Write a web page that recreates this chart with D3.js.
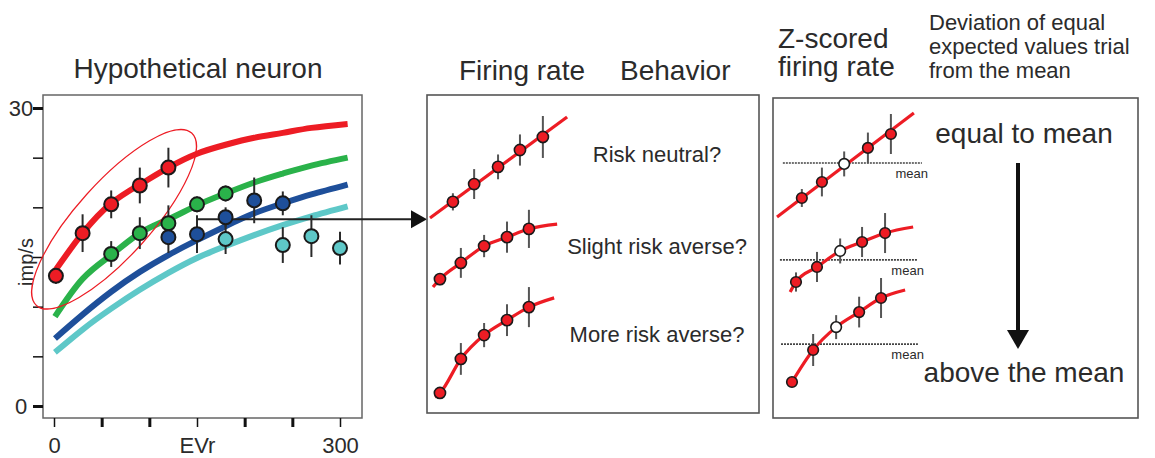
<!DOCTYPE html>
<html>
<head>
<meta charset="utf-8">
<script src="https://cdn.jsdelivr.net/npm/d3@7"></script>
<style>
	body { margin: 0; background: #fff; }
	svg { display: block; font-family: "Liberation Sans", Arial, Helvetica, sans-serif; }
</style>
</head>
<body>
<div id="chart"></div>
<script>
// ---------------- Left panel: hypothetical neuron ----------------
// fitted curves, sampled along EVr
const curveEvr = [1, 30, 60, 90, 120, 150, 180, 210, 240, 270, 308];
const redCurve = [13.6, 17.4, 20.4, 22.3, 24.0, 25.4, 26.3, 27.0, 27.5, 28.0, 28.4];
const greenCurve = [9.0, 12.8, 15.2, 17.4, 18.8, 20.2, 21.4, 22.5, 23.4, 24.2, 25.0];
const blueCurve = [6.8, 9.2, 11.5, 13.5, 15.2, 16.7, 18.1, 19.4, 20.4, 21.3, 22.3];
const cyanCurve = [5.4, 7.7, 9.8, 11.7, 13.4, 14.9, 16.1, 17.2, 18.2, 19.1, 20.1];

// observed rates (imp/s) with error
const redEvr = [2, 30, 60, 90, 120];
const redRate = [13.1, 17.4, 20.3, 22.2, 24.0];
const redErr = [0.8, 1.9, 1.4, 1.8, 2.0];
const greenEvr = [60, 90, 120, 150, 180];
const greenRate = [15.3, 17.4, 18.4, 20.3, 21.4];
const greenErr = [1.3, 1.6, 1.8, 0.8, 0.8];
const blueEvr = [120, 150, 180, 210, 240];
const blueRate = [17.0, 17.3, 19.0, 20.7, 20.4];
const blueErr = [1.6, 1.9, 1.0, 2.3, 1.2];
const cyanEvr = [180, 240, 270, 300];
const cyanRate = [16.8, 16.2, 17.1, 15.9];
const cyanErr = [1.5, 1.8, 2.1, 1.65];

const yTicks = [0, 5, 10, 15, 20, 25, 30];
const xTicks = [0, 50, 100, 150, 200, 250, 300];
const xTickLabels = { 0: "0", 150: "EVr", 300: "300" };

// ---------------- Middle panel: firing rate vs behaviour (a.u.) ----------------
const neutralX = [7.8, 14.2, 21.4, 28.0, 34.9];
const neutralY = [66.4, 72.0, 77.4, 82.7, 86.8];
const neutralErr = [2.7, 4.7, 3.9, 4.9, 6.6];
const neutralFitX = [0.9, 42.2];
const neutralFitY = [61.3, 93.1];

const slightX = [3.9, 10.2, 17.2, 24.1, 30.7];
const slightY = [42.1, 47.2, 52.5, 55.3, 57.9];
const slightErr = [1.9, 4.7, 3.5, 4.9, 6.0];
const slightFitX = [1.8, 3.9, 10.2, 17.2, 24.1, 30.7, 39.2];
const slightFitY = [39.6, 42.1, 47.2, 52.5, 55.3, 57.9, 59.4];

const moreX = [3.9, 10.2, 17.2, 24.1, 30.7];
const moreY = [6.3, 17.0, 24.5, 29.2, 33.3];
const moreErr = [1.3, 5.0, 3.8, 5.0, 6.3];
const moreFitX = [2.4, 3.9, 10.2, 17.2, 24.1, 30.7, 38.3];
const moreFitY = [5.0, 6.3, 17.0, 24.5, 29.2, 33.3, 36.2];

const behaviorLabels = ["Risk neutral?", "Slight risk averse?", "More risk averse?"];

// ---------------- Right panel: z-scored firing rate (a.u.) ----------------
const zTopX = [7.9, 13.4, 19.5, 26.0, 32.3];
const zTopY = [68.75, 73.75, 79.4, 84.4, 88.75];
const zTopErr = [2.8, 4.5, 3.9, 4.8, 6.25];
const zTopFitX = [1.1, 38.6];
const zTopFitY = [62.8, 95.3];
const zTopMean = 79.7;

const zMidX = [6.3, 12.05, 18.4, 24.4, 30.7];
const zMidY = [42.5, 47.2, 52.2, 55.0, 57.8];
const zMidErr = [3.0, 4.7, 3.9, 4.7, 6.25];
const zMidFitX = [4.7, 6.3, 12.05, 18.4, 24.4, 30.7, 38.4];
const zMidFitY = [39.4, 42.5, 47.2, 52.2, 55.0, 57.8, 59.7];
const zMidMean = 49.4;

const zLowX = [5.2, 11.0, 17.3, 23.6, 29.6];
const zLowY = [11.25, 21.25, 28.4, 33.1, 37.5];
const zLowErr = [1.25, 5.0, 3.75, 4.8, 6.25];
const zLowFitX = [5.2, 11.0, 17.3, 23.6, 29.6, 36.2];
const zLowFitY = [11.25, 21.25, 28.4, 33.1, 37.5, 40.0];
const zLowMean = 23.1;

// the equal-EV trial is drawn as an open circle
const openIndex = 2;

const RED = "#ed1c24", GREEN = "#2ab24a", BLUE = "#1e4f9a", CYAN = "#5ec8c8";
const TEXT = "#2b2b2b";

const zip = (xs, ys, es) => xs.map((x, i) => ({ x: x, y: ys[i], e: es ? es[i] : 0, i: i }));

const $svg = d3.select("#chart").append("svg")
	.attr("width", 1155)
	.attr("height", 458);

// ================= Left panel =================
const xLeft = d3.scaleLinear().domain([0, 300]).range([54, 340]);
const yLeft = d3.scaleLinear().domain([0, 30]).range([406, 108]);
const $left = $svg.append("g");

$left.append("rect")
	.attr("x", 43).attr("y", 95)
	.attr("width", 319).attr("height", 323)
	.attr("fill", "none").attr("stroke", "#666").attr("stroke-width", 1.5);

// y axis
const $yAxis = $left.append("g")
	.attr("transform", "translate(43,0)")
	.call(d3.axisLeft(yLeft).tickValues(yTicks).tickSize(10).tickPadding(2)
		.tickFormat(d => (d === 0 || d === 30) ? d : ""));
$yAxis.select(".domain").remove();
$yAxis.selectAll(".tick line")
	.attr("stroke", "#111")
	.attr("stroke-width", d => (d === 0 || d === 30) ? 3 : 1.5);
$yAxis.selectAll(".tick text")
	.attr("x", -22).attr("text-anchor", "middle")
	.attr("fill", TEXT).style("font-size", "22px");

// x axis
const $xAxis = $left.append("g")
	.attr("transform", "translate(0,418)")
	.call(d3.axisBottom(xLeft).tickValues(xTicks).tickSize(9).tickPadding(10)
		.tickFormat(d => xTickLabels[d] || ""));
$xAxis.select(".domain").remove();
$xAxis.selectAll(".tick line")
	.attr("stroke", "#111")
	.attr("stroke-width", d => xTickLabels[d] ? 1.5 : 3);
$xAxis.selectAll(".tick text")
	.attr("fill", TEXT).style("font-size", "22px");

$left.append("text")
	.attr("transform", "translate(33,262) rotate(-90)")
	.attr("text-anchor", "middle")
	.attr("fill", TEXT).style("font-size", "20px")
	.text("imp/s");

// fitted curves
const leftLine = d3.line()
	.x(d => xLeft(d.x))
	.y(d => yLeft(d.y))
	.curve(d3.curveNatural);

[[cyanCurve, CYAN], [blueCurve, BLUE], [greenCurve, GREEN], [redCurve, RED]].forEach(([vals, col]) => {
	$left.append("path")
		.datum(zip(curveEvr, vals))
		.attr("fill", "none")
		.attr("stroke", col)
		.attr("stroke-width", 6)
		.attr("stroke-linecap", "butt")
		.attr("d", leftLine);
});

// ellipse highlighting the low-EV red trials
const ellipseCenter = { x: 63, y: 18.8 };
$left.append("ellipse")
	.attr("transform", `translate(${xLeft(ellipseCenter.x)},${yLeft(ellipseCenter.y)}) rotate(-48)`)
	.attr("rx", 116).attr("ry", 37)
	.attr("fill", "none").attr("stroke", RED).attr("stroke-width", 1.2);

// arrow towards the middle panel
const arrowStart = { x: 150, y: 18.8 };
const arrowTipX = 427;
$left.append("line")
	.attr("x1", xLeft(arrowStart.x)).attr("y1", yLeft(arrowStart.y))
	.attr("x2", arrowTipX - 12).attr("y2", yLeft(arrowStart.y))
	.attr("stroke", "#222").attr("stroke-width", 2);
$left.append("path")
	.attr("d", `M${arrowTipX},${yLeft(arrowStart.y)} l-16,-9 l0,18 Z`)
	.attr("fill", "#111");

// observed points with error bars
const leftSeries = [
	[redEvr, redRate, redErr, RED],
	[greenEvr, greenRate, greenErr, GREEN],
	[blueEvr, blueRate, blueErr, BLUE],
	[cyanEvr, cyanRate, cyanErr, CYAN]
];
leftSeries.forEach(([xs, ys, es]) => {
	$left.append("g").selectAll("line")
		.data(zip(xs, ys, es))
		.join("line")
		.attr("x1", d => xLeft(d.x)).attr("x2", d => xLeft(d.x))
		.attr("y1", d => yLeft(d.y - d.e)).attr("y2", d => yLeft(d.y + d.e))
		.attr("stroke", "#2a2a2a").attr("stroke-width", 2);
});
leftSeries.forEach(([xs, ys, es, col]) => {
	$left.append("g").selectAll("circle")
		.data(zip(xs, ys, es))
		.join("circle")
		.attr("cx", d => xLeft(d.x)).attr("cy", d => yLeft(d.y))
		.attr("r", 7)
		.attr("fill", col)
		.attr("stroke", "#1a1a1a").attr("stroke-width", 2);
});

$svg.append("text")
	.attr("x", 198).attr("y", 78)
	.attr("text-anchor", "middle")
	.attr("fill", TEXT).style("font-size", "28px")
	.text("Hypothetical neuron");

// ================= shared row drawer =================
function drawRow($g, xs, ys, opts) {
	const line = d3.line()
		.x(d => xs(d.x)).y(d => ys(d.y))
		.curve(d3.curveMonotoneX);

	if (opts.mean !== undefined) {
		$g.append("line")
			.attr("x1", xs(opts.meanFrom)).attr("x2", xs(opts.meanTo))
			.attr("y1", ys(opts.mean)).attr("y2", ys(opts.mean))
			.attr("stroke", "#444").attr("stroke-width", 1.6)
			.attr("stroke-dasharray", "2,1");
		$g.append("text")
			.attr("x", xs(opts.meanTo) + 6).attr("y", ys(opts.mean) + 15)
			.attr("text-anchor", "end")
			.attr("fill", TEXT).style("font-size", "13px")
			.text("mean");
	}

	$g.append("path")
		.datum(zip(opts.fitX, opts.fitY))
		.attr("fill", "none")
		.attr("stroke", RED)
		.attr("stroke-width", 3.2)
		.attr("d", line);

	const pts = zip(opts.ptX, opts.ptY, opts.err);
	$g.append("g").selectAll("line")
		.data(pts)
		.join("line")
		.attr("x1", d => xs(d.x)).attr("x2", d => xs(d.x))
		.attr("y1", d => ys(d.y - d.e)).attr("y2", d => ys(d.y + d.e))
		.attr("stroke", "#555").attr("stroke-width", 2);
	$g.append("g").selectAll("circle")
		.data(pts)
		.join("circle")
		.attr("cx", d => xs(d.x)).attr("cy", d => ys(d.y))
		.attr("r", opts.r)
		.attr("fill", d => (opts.open && d.i === openIndex) ? "#fff" : RED)
		.attr("stroke", "#1a1a1a").attr("stroke-width", 1.6);
}

// ================= Middle panel =================
const xMid = d3.scaleLinear().domain([0, 100]).range([427, 759]);
const yMid = d3.scaleLinear().domain([0, 100]).range([413, 95]);
const $mid = $svg.append("g");

$mid.append("rect")
	.attr("x", 427).attr("y", 95)
	.attr("width", 332).attr("height", 318)
	.attr("fill", "none").attr("stroke", "#555").attr("stroke-width", 1.6);

drawRow($mid, xMid, yMid, { ptX: neutralX, ptY: neutralY, err: neutralErr, fitX: neutralFitX, fitY: neutralFitY, r: 5.6 });
drawRow($mid, xMid, yMid, { ptX: slightX, ptY: slightY, err: slightErr, fitX: slightFitX, fitY: slightFitY, r: 5.6 });
drawRow($mid, xMid, yMid, { ptX: moreX, ptY: moreY, err: moreErr, fitX: moreFitX, fitY: moreFitY, r: 5.6 });

[162, 254, 342].forEach((y, i) => {
	$mid.append("text")
		.attr("x", 657).attr("y", y)
		.attr("text-anchor", "middle")
		.attr("fill", TEXT).style("font-size", "22px")
		.text(behaviorLabels[i]);
});

$svg.append("text").attr("x", 459).attr("y", 80)
	.attr("fill", TEXT).style("font-size", "28px").text("Firing rate");
$svg.append("text").attr("x", 620).attr("y", 80)
	.attr("fill", TEXT).style("font-size", "28px").text("Behavior");

// ================= Right panel =================
const xRight = d3.scaleLinear().domain([0, 100]).range([773, 1138]);
const yRight = d3.scaleLinear().domain([0, 100]).range([418, 98]);
const $right = $svg.append("g");

$right.append("rect")
	.attr("x", 773).attr("y", 98)
	.attr("width", 365).attr("height", 320)
	.attr("fill", "none").attr("stroke", "#555").attr("stroke-width", 1.6);

drawRow($right, xRight, yRight, { ptX: zTopX, ptY: zTopY, err: zTopErr, fitX: zTopFitX, fitY: zTopFitY,
	mean: zTopMean, meanFrom: 2.7, meanTo: 40.8, open: true, r: 5.3 });
drawRow($right, xRight, yRight, { ptX: zMidX, ptY: zMidY, err: zMidErr, fitX: zMidFitX, fitY: zMidFitY,
	mean: zMidMean, meanFrom: 1.9, meanTo: 39.7, open: true, r: 5.3 });
drawRow($right, xRight, yRight, { ptX: zLowX, ptY: zLowY, err: zLowErr, fitX: zLowFitX, fitY: zLowFitY,
	mean: zLowMean, meanFrom: 2.2, meanTo: 39.7, open: true, r: 5.3 });

// big down arrow
$right.append("line")
	.attr("x1", 1018).attr("x2", 1018)
	.attr("y1", 163).attr("y2", 332)
	.attr("stroke", "#111").attr("stroke-width", 4);
$right.append("path")
	.attr("d", "M1018,349 l-11,-19 l22,0 Z")
	.attr("fill", "#111");

$right.append("text").attr("x", 1024).attr("y", 143)
	.attr("text-anchor", "middle")
	.attr("fill", TEXT).style("font-size", "28px").text("equal to mean");
$right.append("text").attr("x", 1024).attr("y", 382)
	.attr("text-anchor", "middle")
	.attr("fill", TEXT).style("font-size", "28px").text("above the mean");

// right titles
[["Z-scored", 48], ["firing rate", 76]].forEach(([t, y]) => {
	$svg.append("text").attr("x", 778).attr("y", y)
		.attr("fill", TEXT).style("font-size", "28px").text(t);
});
[["Deviation of equal", 30], ["expected values trial", 54], ["from the mean", 78]].forEach(([t, y]) => {
	$svg.append("text").attr("x", 929).attr("y", y)
		.attr("fill", TEXT).style("font-size", "22px").text(t);
});
</script>
</body>
</html>
